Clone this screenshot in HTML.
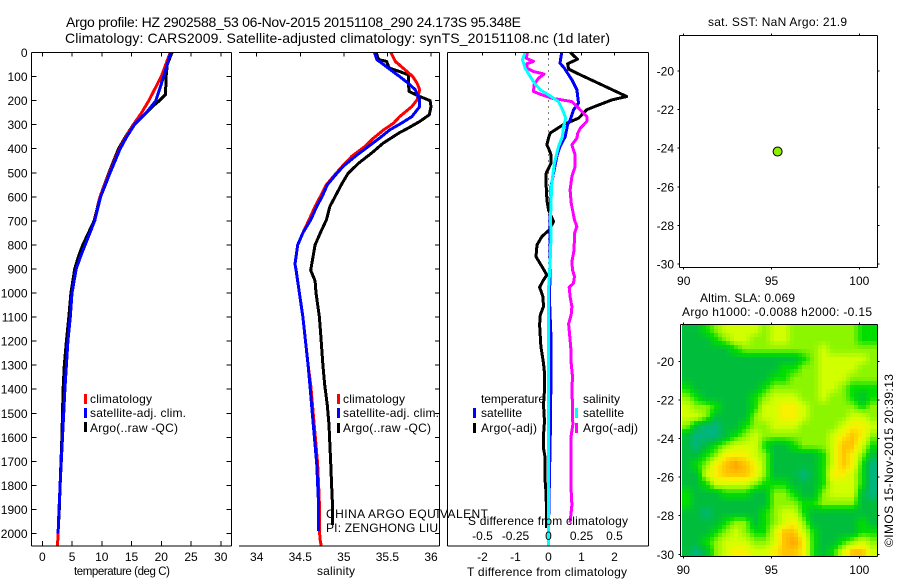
<!DOCTYPE html>
<html>
<head>
<meta charset="utf-8">
<title>Argo profile</title>
<style>
html,body{margin:0;padding:0;background:#fff;}
svg{display:block;}
text{font-family:"Liberation Sans",Arial,sans-serif;font-size:12px;fill:#000;}
.title{font-size:14px;}
</style>
</head>
<body>
<svg id="fig" xmlns="http://www.w3.org/2000/svg" width="900" height="580" viewBox="0 0 900 580">
<rect x="0" y="0" width="900" height="580" fill="#fff"/>
<text class="title" x="66" y="27" textLength="455" lengthAdjust="spacing">Argo profile: HZ 2902588_53 06-Nov-2015 20151108_290 24.173S 95.348E</text>
<text class="title" x="65" y="43" textLength="545" lengthAdjust="spacing">Climatology: CARS2009. Satellite-adjusted climatology: synTS_20151108.nc (1d later)</text>

<g id="plots"></g>

<g>
<rect x="84" y="394" width="3" height="10" fill="#f00"/>
<rect x="84" y="408" width="3" height="10" fill="#00f"/>
<rect x="84" y="422" width="3" height="10" fill="#000"/>
<text x="90" y="403" textLength="62">climatology</text>
<text x="90" y="417" textLength="96">satellite-adj. clim.</text>
<text x="90" y="432" textLength="88">Argo(..raw -QC)</text>
</g>
<g>
<rect x="337" y="394" width="3" height="10" fill="#f00"/>
<rect x="337" y="408" width="3" height="10" fill="#00f"/>
<rect x="337" y="423" width="3" height="10" fill="#000"/>
<text x="343" y="403" textLength="62">climatology</text>
<text x="343" y="417" textLength="96">satellite-adj. clim.</text>
<text x="343" y="432" textLength="88">Argo(..raw -QC)</text>
</g>
<g>
<text x="481" y="403" textLength="64">temperature</text>
<text x="583" y="403" textLength="37">salinity</text>
<rect x="473" y="408" width="3" height="10" fill="#00f"/>
<rect x="473" y="423" width="3" height="10" fill="#000"/>
<rect x="575" y="408" width="3" height="10" fill="#0ff"/>
<rect x="575" y="423" width="3" height="10" fill="#f0f"/>
<text x="481" y="417" textLength="41">satellite</text>
<text x="481" y="432" textLength="56">Argo(-adj)</text>
<text x="583" y="417" textLength="41">satellite</text>
<text x="583" y="432" textLength="55">Argo(-adj)</text>
</g>

<text x="74" y="575" textLength="96" style="font-size:11.5px">temperature (deg C)</text>
<text x="317" y="575" textLength="38">salinity</text>
<text x="467" y="576" textLength="160">T difference from climatology</text>
<text x="468" y="525" textLength="160">S difference from climatology</text>
<text x="326" y="518" textLength="162">CHINA ARGO EQUIVALENT</text>
<text x="326" y="532" textLength="112">PI: ZENGHONG LIU</text>
<text x="708" y="26" textLength="139">sat. SST: NaN Argo: 21.9</text>
<text x="700" y="302" textLength="95">Altim. SLA: 0.069</text>
<text x="682" y="316" textLength="190">Argo h1000: -0.0088 h2000: -0.15</text>
<text transform="translate(893,547) rotate(-90)" x="0" y="0" textLength="173">©IMOS 15-Nov-2015 20:39:13</text>
</svg>

<script>
// ---------- chart data ----------
const depthTicks = [0,100,200,300,400,500,600,700,800,900,1000,1100,1200,1300,1400,1500,1600,1700,1800,1900,2000];
const tempTicks = [0,5,10,15,20,25,30];
const salTicks = [34,34.5,35,35.5,36];
const tDiffTicks = [-2,-1,0,1,2];
const sDiffTicks = [-0.5,-0.25,0,0.25,0.5];
const sDiffTickLabels = ['-0.5','-0.25','0','0.25','0.5'];
const latTicks = [-20,-22,-24,-26,-28,-30];
const lonTicks = [90,95,100];

const tempClimDepth = [0,100,200,250,300,350,400,500,600,700,750,800,850,900,1000,1100,1200,1300,1400,1500,1600,1700,1800,1900,2000,2050];
const tempClim = [21.5,20,17.9,16.7,15.3,14.1,13,11.3,9.7,8.8,8,7.2,6.4,5.7,5,4.7,4.3,4.05,3.8,3.6,3.4,3.2,3,2.8,2.65,2.55];
const tempSatDepth = [0,100,200,250,300,350,400,500,600,700,750,800,850,900,1000,1100,1200,1300,1400,1500,1600,1700,1800,1900,2000];
const tempSat = [21.6,20.4,19.1,17.5,15.5,14.2,13.1,11.4,9.8,8.8,8,7.2,6.4,5.7,5,4.7,4.3,4.05,3.8,3.6,3.4,3.2,3,2.8,2.65];
const tempArgoDepth = [0,50,100,175,200,225,250,300,350,400,500,600,700,800,850,900,1000,1100,1200,1300,1400,1500,1600,1700,1800,1900,1970];
const tempArgo = [21.8,21,20.8,20.7,19.7,18.5,17.5,15.3,14,12.8,11.2,9.7,8.7,6.8,6.05,5.45,4.8,4.45,4.05,3.7,3.5,3.4,3.3,3.15,3,2.85,2.7];

const salClimDepth = [0,37,65,100,128,155,197,225,267,294,321,356,391,432,474,515,550,599,640,696,750,800,880,900,1000,1100,1200,1300,1382,1466,1549,1632,1715,1798,1881,1990,2031,2050];
const salClim = [35.54,35.59,35.68,35.79,35.84,35.87,35.84,35.78,35.64,35.57,35.46,35.34,35.24,35.09,34.98,34.88,34.8,34.73,34.67,34.6,34.53,34.47,34.44,34.45,34.49,34.53,34.56,34.59,34.62,34.64,34.66,34.68,34.7,34.71,34.72,34.72,34.73,34.74];
const salSatDepth = [0,30,65,100,128,155,197,225,267,294,321,356,391,432,474,515,550,599,640,696,750,800,880,900,1000,1100,1200,1300,1382,1466,1549,1632,1715,1798,1881,1990];
const salSat = [35.35,35.38,35.51,35.64,35.74,35.82,35.87,35.87,35.78,35.66,35.53,35.41,35.28,35.13,34.99,34.89,34.81,34.75,34.69,34.62,34.53,34.47,34.44,34.45,34.49,34.53,34.56,34.59,34.61,34.63,34.65,34.67,34.69,34.7,34.71,34.71];
const salArgoDepth = [0,30,37,65,79,93,128,162,183,200,225,259,287,314,335,377,418,460,502,544,599,640,696,750,800,905,950,1000,1100,1200,1300,1382,1466,1549,1632,1715,1798,1881,1965];
const salArgo = [35.37,35.4,35.49,35.52,35.64,35.74,35.74,35.75,35.87,35.99,36,35.98,35.87,35.74,35.63,35.45,35.32,35.17,35.05,34.98,34.9,34.84,34.8,34.73,34.67,34.62,34.67,34.68,34.72,34.74,34.76,34.78,34.81,34.83,34.84,34.85,34.86,34.87,34.87];

const tDiffArgoDepth = [0,28,47,69,86,183,197,224,238,273,300,335,356,384,398,426,460,502,557,613,655,703,738,765,800,849,890,925,946,976,1015,1056,1091,1133,1223,1292,1334,1403,1465,1534,1590,1645,1687,1784,1839,1978];
const tDiffArgo = [0.66,0.88,0.58,0.61,0.86,2.37,1.92,1.41,1.16,0.91,0.45,0.05,0,-0.05,0,0.08,0.08,-0.07,-0.07,-0.05,0,0.15,0.02,-0.2,-0.35,-0.38,-0.2,-0.05,-0.15,-0.27,-0.17,-0.15,-0.25,-0.27,-0.23,-0.15,-0.12,-0.12,-0.15,-0.12,-0.15,-0.15,-0.1,-0.1,-0.07,-0.06];
const tDiffSatDepth = [0,44,65,114,155,211,238,280,300,349,391,432,502,557,696,890,1029,1167,1403,1541,1978];
const tDiffSat = [0.4,0.35,0.48,0.71,0.86,0.91,0.76,0.66,0.58,0.51,0.35,0.25,0.15,0.08,0.05,0.05,0.03,0.07,0.07,0.06,0];
const sDiffSatDepth = [0,30,65,100,128,155,176,204,238,273,308,349,391,460,543,613,696,752,876,987,1403,2050];
const sDiffSat = [-0.177,-0.197,-0.177,-0.139,-0.106,-0.063,0,0.076,0.106,0.131,0.114,0.106,0.076,0.045,0.025,0.02,0.015,0.02,0.012,0,0,0];
const sDiffArgoDepth = [0,24,37,47,65,79,90,107,134,162,176,190,204,231,266,287,315,335,356,384,426,474,515,571,626,696,724,752,821,869,904,932,960,976,1015,1056,1091,1129,1167,1230,1292,1348,1403,1465,1548,1604,1659,1756,1825,1881,1955];
const sDiffArgo = [-0.159,-0.169,-0.114,-0.164,-0.164,-0.114,-0.033,-0.076,-0.109,-0.114,-0.05,0.025,0.177,0.227,0.29,0.29,0.24,0.222,0.215,0.177,0.202,0.202,0.177,0.164,0.172,0.197,0.215,0.197,0.194,0.177,0.182,0.197,0.189,0.157,0.164,0.177,0.172,0.152,0.159,0.169,0.172,0.182,0.177,0.182,0.184,0.169,0.172,0.172,0.172,0.177,0.164];

const argoLon = 95.348;
const argoLat = -24.173;

const slaLevels = [
[1,1,2,3,4,4,4,4,3,4,4,3,3,3,3,3,3,3,2,2],
[1,1,1,2,3,4,4,3,3,4,4,3,3,3,3,3,3,3,2,2],
[1,1,1,1,1,2,3,3,3,3,3,3,3,3,4,3,3,3,3,3],
[1,1,1,1,1,1,1,1,1,1,1,1,2,3,4,4,4,4,4,3],
[1,1,1,1,1,1,1,1,1,1,2,2,3,3,4,4,4,4,3,3],
[1,1,1,1,1,1,1,1,1,2,2,3,3,3,4,4,4,3,3,3],
[2,1,1,1,1,1,1,1,2,3,3,3,3,3,4,4,3,2,2,2],
[3,2,1,1,1,1,1,2,3,4,4,4,3,3,4,3,3,2,1,2],
[4,3,3,2,1,1,1,2,4,4,5,5,4,3,3,3,3,3,2,3],
[4,4,3,1,1,1,1,3,4,4,5,5,4,3,3,3,3,4,4,3],
[3,1,0,0,1,1,2,3,3,4,4,4,3,3,3,3,4,5,5,4],
[1,0,0,0,1,2,3,4,3,3,3,3,3,3,3,4,5,6,5,3],
[1,0,1,2,3,4,4,4,2,1,1,2,3,3,3,4,6,6,4,2],
[1,1,2,3,5,5,5,4,3,1,1,1,1,1,2,4,6,5,3,1],
[1,2,3,5,6,7,6,5,3,1,1,1,1,1,2,4,6,5,2,0],
[1,1,4,5,6,6,6,5,3,1,1,1,0,1,2,5,5,4,2,0],
[1,1,2,4,4,4,4,3,2,2,2,1,1,1,2,4,4,4,2,0],
[2,1,1,1,2,2,2,1,1,3,3,2,1,1,3,4,4,4,1,0],
[2,1,1,1,1,1,1,1,1,3,3,3,2,2,3,3,3,3,1,1],
[1,1,0,1,1,1,1,1,2,3,4,4,2,1,1,1,1,1,1,1],
[1,1,1,1,2,3,3,1,2,3,4,5,3,1,1,1,1,1,2,1],
[1,1,1,2,3,4,3,2,2,4,6,6,4,2,1,1,1,1,2,2],
[1,1,2,3,4,4,4,3,3,4,6,7,5,2,1,1,2,3,4,3],
[1,0,1,3,4,5,5,4,4,5,6,6,5,2,1,2,4,6,6,4]
];
const slaPalette = [[0,182,125],[0,190,60],[0,222,0],[140,245,0],[210,255,0],[250,240,0],[255,195,0],[255,160,0]];

// ---------- scales ----------
const NS = 'http://www.w3.org/2000/svg';
const root = document.getElementById('plots');
const TOP = 52.5, BOTTOM = 546;
const yDepth = d => TOP + 0.2405 * d;
const xTemp = t => 42.3 + 5.95 * t;
const xSal = s => 256.7 + 87.15 * (s - 34);
const xTD = t => 548.5 + 33 * t;
const xSD = s => 548.5 + 132 * s;
const lonTop = v => 683.7 + (v - 90) * 17.56;
const latTop = v => 71 + (-20 - v) * 19.3;
const lonSla = v => 683.3 + (v - 90) * 17.6;
const latSla = v => 361.3 + (-20 - v) * 19.3;

function make(tag, attrs, parent) {
  const el = document.createElementNS(NS, tag);
  for (const k in attrs) el.setAttribute(k, attrs[k]);
  (parent || root).appendChild(el);
  return el;
}
function line(x1, y1, x2, y2, name) {
  const el = make('line', {x1, y1, x2, y2, stroke: '#000', 'stroke-width': 1, 'shape-rendering': 'crispEdges'});
  
  
  return el;
}
function label(x, y, str, anchor, name) {
  const el = make('text', {x, y, 'text-anchor': anchor});
  el.textContent = str;
  
  
  return el;
}
function profile(depths, values, xf, color, name) {
  const pts = depths.map((d, i) => xf(values[i]).toFixed(1) + ',' + yDepth(d).toFixed(1)).join(' ');
  const el = make('polyline', {points: pts, fill: 'none', stroke: color, 'stroke-width': 3, 'stroke-linejoin': 'round', 'shape-rendering': 'crispEdges'});
  
  
  return el;
}

// ---------- SLA heatmap (shaded by bilinear lookup into slaLevels) ----------
function slaColor(v) {
  const i = Math.min(Math.floor(v), slaPalette.length - 2), f = v - i;
  const a = slaPalette[i], b = slaPalette[i + 1];
  return 'rgb(' + [0, 1, 2].map(k => Math.round(a[k] + (b[k] - a[k]) * f)).join(',') + ')';
}
function slaAt(u, v) {
  const rows = slaLevels.length, cols = slaLevels[0].length;
  const fx = Math.max(0, Math.min(cols - 1.001, u * cols - 0.5));
  const fy = Math.max(0, Math.min(rows - 1.001, v * rows - 0.5));
  const ix = Math.floor(fx), iy = Math.floor(fy), tx = fx - ix, ty = fy - iy;
  return (slaLevels[iy][ix] * (1 - tx) + slaLevels[iy][ix + 1] * tx) * (1 - ty) +
         (slaLevels[iy + 1][ix] * (1 - tx) + slaLevels[iy + 1][ix + 1] * tx) * ty;
}
const hm = {x: 682, y: 325, w: 195, h: 231, step: 4};
const hmGroup = make('g', {'shape-rendering': 'crispEdges'});


for (let py = 0; py < hm.h; py += hm.step) {
  for (let px = 0; px < hm.w; px += hm.step) {
    const val = slaAt((px + hm.step / 2) / hm.w, (py + hm.step / 2) / hm.h);
    const cell = make('rect', {x: hm.x + px, y: hm.y + py, width: Math.min(hm.step, hm.w - px), height: Math.min(hm.step, hm.h - py), fill: slaColor(val)}, hmGroup);
    
    
  }
}

// ---------- panel 1: temperature ----------
profile(tempArgoDepth, tempArgo, xTemp, '#000', 'temperature-argo-line');
profile(tempClimDepth, tempClim, xTemp, '#f00', 'temperature-climatology-line');
profile(tempSatDepth, tempSat, xTemp, '#00f', 'temperature-satellite-line');
line(31.5, TOP, 231.5, TOP, 'temperature-top-axis');
line(31.5, BOTTOM, 231.5, BOTTOM, 'temperature-bottom-axis');
line(31.5, TOP, 31.5, BOTTOM, 'temperature-left-axis');
line(231.5, TOP, 231.5, BOTTOM, 'temperature-right-axis');
depthTicks.forEach(d => {
  line(31.5, yDepth(d), 36.5, yDepth(d), 'depth-tick-left');
  line(226.5, yDepth(d), 231.5, yDepth(d), 'depth-tick-right');
  label(27.5, yDepth(d) + 4.5, String(d), 'end', 'depth-tick-label');
});
tempTicks.forEach(t => {
  line(xTemp(t), TOP, xTemp(t), TOP + 4, 'temperature-tick-top');
  line(xTemp(t), BOTTOM - 5, xTemp(t), BOTTOM, 'temperature-tick-bottom');
  label(xTemp(t), 561, String(t), 'middle', 'temperature-tick-label');
});

// ---------- panel 2: salinity ----------
profile(salArgoDepth, salArgo, xSal, '#000', 'salinity-argo-line');
profile(salClimDepth, salClim, xSal, '#f00', 'salinity-climatology-line');
profile(salSatDepth, salSat, xSal, '#00f', 'salinity-satellite-line');
line(239, TOP, 439.5, TOP, 'salinity-top-axis');
line(239, BOTTOM, 439.5, BOTTOM, 'salinity-bottom-axis');
line(439.5, TOP, 439.5, BOTTOM, 'salinity-right-axis');
depthTicks.forEach(d => {
  line(435, yDepth(d), 439.5, yDepth(d), 'salinity-depth-tick');
});
salTicks.forEach(s => {
  line(xSal(s), TOP, xSal(s), TOP + 4, 'salinity-tick-top');
  label(xSal(s), 561, String(s), 'middle', 'salinity-tick-label');
});

// ---------- panel 3: differences ----------
const zeroLine = make('line', {x1: xTD(0), y1: TOP, x2: xTD(0), y2: BOTTOM, stroke: '#000', 'stroke-width': 1, 'stroke-dasharray': '1 5', 'shape-rendering': 'crispEdges'});


profile(tDiffArgoDepth, tDiffArgo, xTD, '#000', 't-difference-argo-line');
profile(tDiffSatDepth, tDiffSat, xTD, '#00f', 't-difference-satellite-line');
profile(sDiffArgoDepth, sDiffArgo, xSD, '#f0f', 's-difference-argo-line');
profile(sDiffSatDepth, sDiffSat, xSD, '#0ff', 's-difference-satellite-line');
line(447.5, TOP, 648.5, TOP, 'difference-top-axis');
line(447.5, BOTTOM, 648.5, BOTTOM, 'difference-bottom-axis');
line(447.5, TOP, 447.5, BOTTOM, 'difference-left-axis');
line(648.5, TOP, 648.5, BOTTOM, 'difference-right-axis');
tDiffTicks.forEach(t => {
  line(xTD(t), TOP, xTD(t), TOP + 3, 'difference-tick-top');
  label(xTD(t), 561, String(t), 'middle', 't-difference-tick-label');
});
sDiffTicks.forEach((s, i) => {
  label(xSD(s), 540, sDiffTickLabels[i], 'middle', 's-difference-tick-label');
});

// ---------- panel 4: SST map ----------
const M1 = {l: 679.5, r: 877.5, t: 35.5, b: 267.5};
line(M1.l, M1.t, M1.r, M1.t, 'sst-map-top-axis');
line(M1.l, M1.b, M1.r, M1.b, 'sst-map-bottom-axis');
line(M1.l, M1.t, M1.l, M1.b, 'sst-map-left-axis');
line(M1.r, M1.t, M1.r, M1.b, 'sst-map-right-axis');
latTicks.forEach(v => {
  line(M1.l - 2, latTop(v), M1.l, latTop(v), 'sst-map-lat-tick-left');
  line(M1.r, latTop(v), M1.r + 2, latTop(v), 'sst-map-lat-tick-right');
  label(674, latTop(v) + 4.5, String(v), 'end', 'sst-map-lat-label');
});
lonTicks.forEach(v => {
  line(lonTop(v), M1.t - 2, lonTop(v), M1.t, 'sst-map-lon-tick-top');
  line(lonTop(v), M1.b, lonTop(v), M1.b + 2, 'sst-map-lon-tick-bottom');
  label(lonTop(v), 285, String(v), 'middle', 'sst-map-lon-label');
});
const marker = make('circle', {cx: lonTop(argoLon), cy: latTop(argoLat), r: 4.5, fill: '#90ee00', stroke: '#000', 'stroke-width': 1});



// ---------- panel 5: SLA map axes ----------
const M2 = {l: 680.5, r: 877.5, t: 324.5, b: 556.5};
line(M2.l, M2.t, M2.r, M2.t, 'sla-map-top-axis');
line(M2.l, M2.b, M2.r, M2.b, 'sla-map-bottom-axis');
line(M2.l, M2.t, M2.l, M2.b, 'sla-map-left-axis');
line(M2.r, M2.t, M2.r, M2.b, 'sla-map-right-axis');
latTicks.forEach(v => {
  line(M2.l - 2, latSla(v), M2.l, latSla(v), 'sla-map-lat-tick-left');
  line(M2.r, latSla(v), M2.r + 2, latSla(v), 'sla-map-lat-tick-right');
  label(674, latSla(v) + 4.5, String(v), 'end', 'sla-map-lat-label');
});
lonTicks.forEach(v => {
  line(lonSla(v), M2.t - 2, lonSla(v), M2.t, 'sla-map-lon-tick-top');
  line(lonSla(v), M2.b, lonSla(v), M2.b + 2, 'sla-map-lon-tick-bottom');
  label(lonSla(v), 574, String(v), 'middle', 'sla-map-lon-label');
});
</script>
</body>
</html>
